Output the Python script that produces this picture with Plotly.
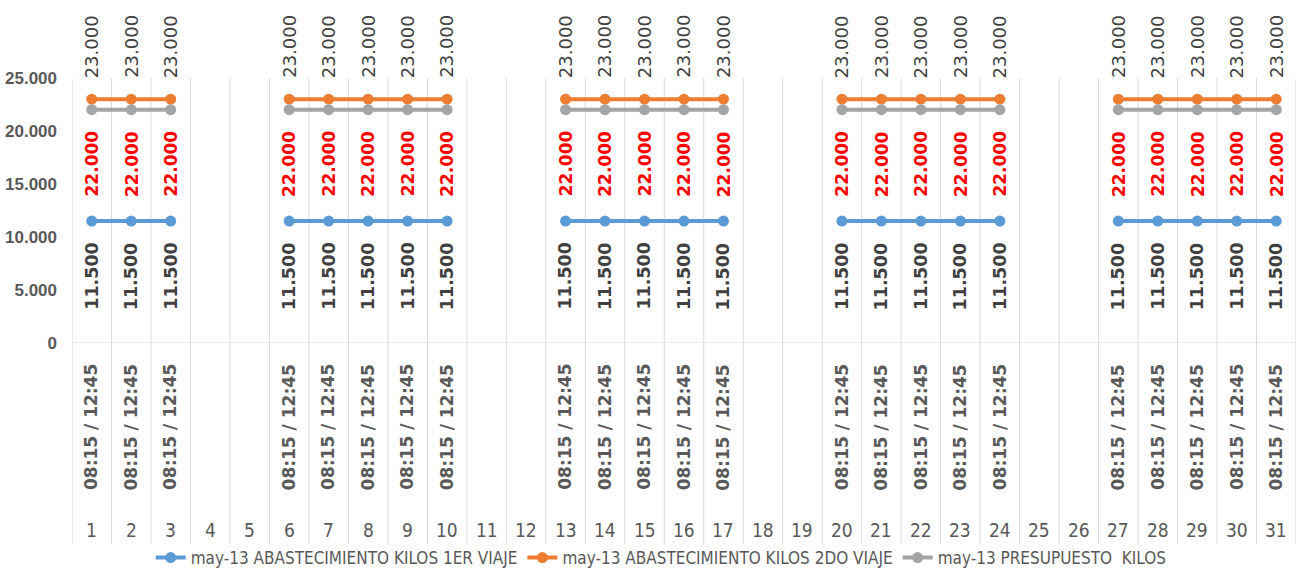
import plotly.graph_objects as go

# Días de mayo 2013
dias = [str(d) for d in range(1, 32)]

# Horario de abastecimiento (vacío en fines de semana)
horario = [
    "08:15 / 12:45", "08:15 / 12:45", "08:15 / 12:45", "", "",
    "08:15 / 12:45", "08:15 / 12:45", "08:15 / 12:45", "08:15 / 12:45", "08:15 / 12:45", "", "",
    "08:15 / 12:45", "08:15 / 12:45", "08:15 / 12:45", "08:15 / 12:45", "08:15 / 12:45", "", "",
    "08:15 / 12:45", "08:15 / 12:45", "08:15 / 12:45", "08:15 / 12:45", "08:15 / 12:45", "", "",
    "08:15 / 12:45", "08:15 / 12:45", "08:15 / 12:45", "08:15 / 12:45", "08:15 / 12:45",
]

viaje_1 = [
    11500, 11500, 11500, None, None,
    11500, 11500, 11500, 11500, 11500, None, None,
    11500, 11500, 11500, 11500, 11500, None, None,
    11500, 11500, 11500, 11500, 11500, None, None,
    11500, 11500, 11500, 11500, 11500,
]
viaje_2 = [
    23000, 23000, 23000, None, None,
    23000, 23000, 23000, 23000, 23000, None, None,
    23000, 23000, 23000, 23000, 23000, None, None,
    23000, 23000, 23000, 23000, 23000, None, None,
    23000, 23000, 23000, 23000, 23000,
]
presupuesto = [
    22000, 22000, 22000, None, None,
    22000, 22000, 22000, 22000, 22000, None, None,
    22000, 22000, 22000, 22000, 22000, None, None,
    22000, 22000, 22000, 22000, 22000, None, None,
    22000, 22000, 22000, 22000, 22000,
]

y_ticks = [0, 5000, 10000, 15000, 20000, 25000]

W, H = 1299, 576
x_pos = list(range(1, 32))

def py(px):
    """pixel row -> paper coordinate"""
    return (H - px) / H

fig = go.Figure()

series = [
    ("may-13 ABASTECIMIENTO KILOS 1ER VIAJE", viaje_1, "#5B9BD5"),
    ("may-13 ABASTECIMIENTO KILOS 2DO VIAJE", viaje_2, "#ED7D31"),
    ("may-13 PRESUPUESTO  KILOS", presupuesto, "#A5A5A5"),
]
for name, vals, color in series:
    fig.add_trace(go.Scatter(
        x=x_pos, y=vals, name=name, mode="lines+markers",
        line=dict(color=color, width=4),
        marker=dict(color=color, size=11, symbol="circle"),
        connectgaps=False, cliponaxis=False,
    ))

annotations = []
label_font = "DejaVu Sans"
narrow_font = "Liberation Sans Narrow, DejaVu Sans Condensed, sans-serif"

def fmt(v):
    return f"{v:,.0f}".replace(",", ".")

# Etiquetas de datos
for x, v in zip(x_pos, viaje_2):
    if v is not None:
        annotations.append(dict(
            x=x, y=v, xref="x", yref="y", text=fmt(v),
            textangle=-90, showarrow=False, xanchor="center", yanchor="bottom", yshift=19,
            font=dict(family=label_font, size=18, color="#404040"),
        ))
for x, v in zip(x_pos, presupuesto):
    if v is not None:
        annotations.append(dict(
            x=x, y=v, xref="x", yref="y", text=f"<b>{fmt(v)}</b>",
            textangle=-90, showarrow=False, xanchor="center", yanchor="top", yshift=-19,
            font=dict(family=label_font, size=17, color="#FF0000"),
        ))
for x, v in zip(x_pos, viaje_1):
    if v is not None:
        annotations.append(dict(
            x=x, y=v, xref="x", yref="y", text=f"<b>{fmt(v)}</b>",
            textangle=-90, showarrow=False, xanchor="center", yanchor="top", yshift=-19,
            font=dict(family=label_font, size=17.5, color="#404040"),
        ))

# Eje de categorías en dos niveles
for x, h in zip(x_pos, horario):
    if h:
        annotations.append(dict(
            x=x, y=py(431), xref="x", yref="paper", text=f"<b>{h}</b>",
            textangle=-90, showarrow=False, xanchor="center", yanchor="middle",
            font=dict(family=label_font, size=17, color="#595959"),
        ))
for x, d in zip(x_pos, dias):
    annotations.append(dict(
        x=x, y=py(535), xref="x", yref="paper", text=d,
        showarrow=False, xanchor="center", yanchor="middle",
        font=dict(family=narrow_font, size=19, color="#595959"),
    ))

shapes = []
for i in range(32):
    shapes.append(dict(
        type="line", xref="x", yref="paper", x0=i + 0.5, x1=i + 0.5,
        y0=py(549), y1=py(79), line=dict(color="#D9D9D9", width=1), layer="below",
    ))
shapes.append(dict(
    type="line", xref="x", yref="y", x0=0.5, x1=31.5, y0=0, y1=0,
    line=dict(color="#D9D9D9", width=1), layer="below",
))

fig.update_layout(
    width=W, height=H,
    margin=dict(l=0, r=0, t=0, b=0),
    paper_bgcolor="white", plot_bgcolor="white",
    separators=",.",
    showlegend=True,
    legend=dict(
        orientation="h", x=0.509, xanchor="center", y=py(563), yanchor="middle",
        font=dict(family=narrow_font, size=17, color="#595959"),
        itemwidth=30, bgcolor="rgba(0,0,0,0)",
    ),
    xaxis=dict(
        domain=[72 / W, 1296 / W], range=[0.5, 31.5],
        showgrid=False, zeroline=False, showticklabels=False, ticks="",
        showline=False, automargin=False,
    ),
    yaxis=dict(
        domain=[py(346), py(78.6)], range=[0, 25000],
        tickvals=y_ticks, tickformat=",d",
        showgrid=False, zeroline=False, showline=False, ticks="",
        ticklabelstandoff=14, automargin=False,
        tickfont=dict(family="Liberation Sans, Arial, sans-serif",
                      size=17, color="#595959", weight="bold"),
    ),
    annotations=annotations,
    shapes=shapes,
)

fig.write_html("out.html")
